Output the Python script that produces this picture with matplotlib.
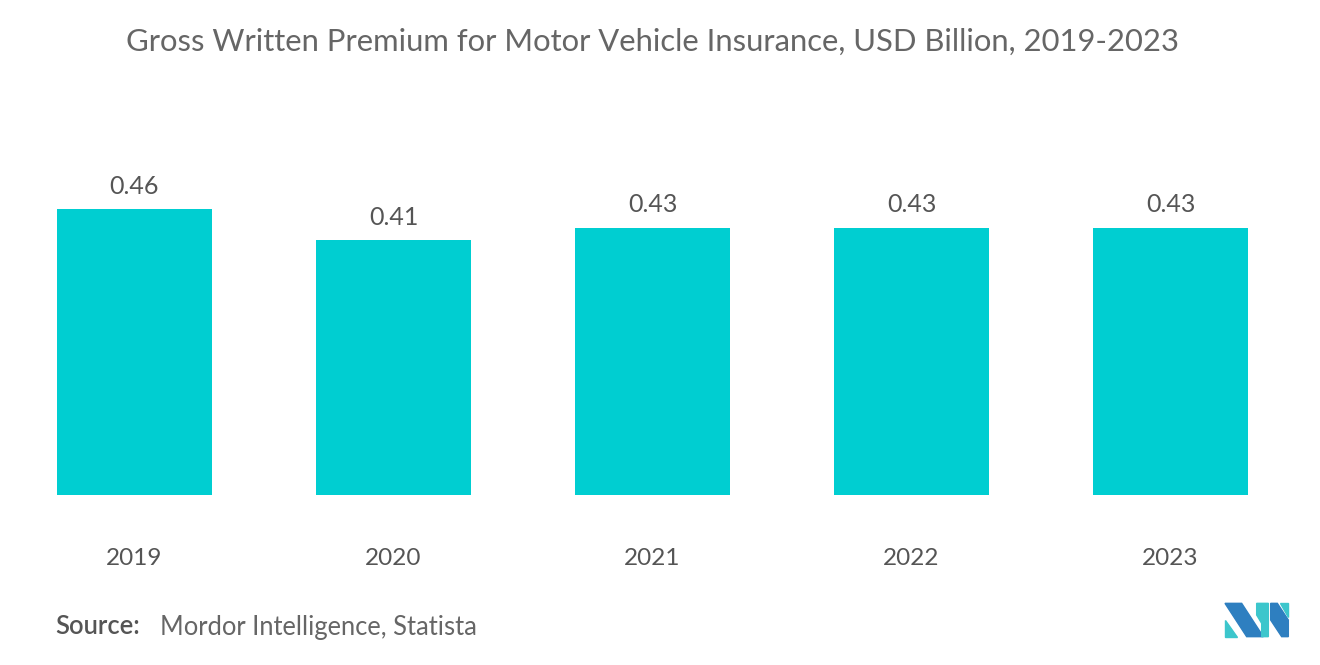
import matplotlib
matplotlib.use('Agg')
import matplotlib.pyplot as plt
from matplotlib.patches import Polygon

plt.rcParams['font.family'] = ['Lato', 'DejaVu Sans']

years = ['2019', '2020', '2021', '2022', '2023']
premium = [0.46, 0.41, 0.43, 0.43, 0.43]

BAR_COLOR = '#00ced1'
TEXT_COLOR = '#555555'

fig = plt.figure(figsize=(13.2, 6.65), dpi=100)
ax = fig.add_axes([5 / 1320, 170 / 665, 1295 / 1320, 311 / 665])

x = range(len(years))
bars = ax.bar(x, premium, width=0.6, color=BAR_COLOR)
for bar, v in zip(bars, premium):
    ax.annotate(f'{v:.2f}', (bar.get_x() + bar.get_width() / 2, v),
                xytext=(0, 8), textcoords='offset points',
                ha='center', va='bottom', fontsize=18, color=TEXT_COLOR)

ax.set_xlim(-0.5, len(years) - 0.5)
ax.set_ylim(0, 0.5)
ax.set_xticks(list(x))
ax.set_xticklabels(years, fontsize=17.5, color=TEXT_COLOR)
ax.tick_params(axis='x', length=0, pad=38)
ax.set_yticks([])
for s in ax.spines.values():
    s.set_visible(False)

fig.text(652 / 1320, 1 - 42 / 665,
         'Gross Written Premium for Motor Vehicle Insurance, USD Billion, 2019-2023',
         ha='center', va='center', fontsize=22.3, color='#666666')

fig.text(55 / 1320, 1 - 627 / 665, 'Source:', ha='left', va='center',
         fontsize=18.4, color='#555555', fontweight='semibold')
fig.text(160 / 1320, 1 - 627 / 665, 'Mordor Intelligence, Statista', ha='left',
         va='center', fontsize=18.4, color='#666666')

# logo
def px(pts):
    return [(1200 + a / 3) / 1320 for a, b in pts], [1 - (590 + b / 3) / 665 for a, b in pts]

shapes = [
    ([(75, 40), (125, 40), (190, 140), (140, 140)], '#2e7fc0'),
    ([(75, 90), (75, 140), (110, 140)], '#3cc6cc'),
    ([(170, 40), (205, 40), (205, 140), (185, 140), (185, 100), (170, 75)], '#3cc6cc'),
    ([(212, 40), (232, 40), (265, 90), (265, 140), (245, 140), (212, 90)], '#2e7fc0'),
    ([(240, 40), (265, 40), (265, 80)], '#3cc6cc'),
]
for pts, c in shapes:
    xs, ys = px(pts)
    fig.patches.append(Polygon(list(zip(xs, ys)), closed=True, color=c,
                               transform=fig.transFigure, figure=fig))

fig.savefig('out.png', dpi=100)
